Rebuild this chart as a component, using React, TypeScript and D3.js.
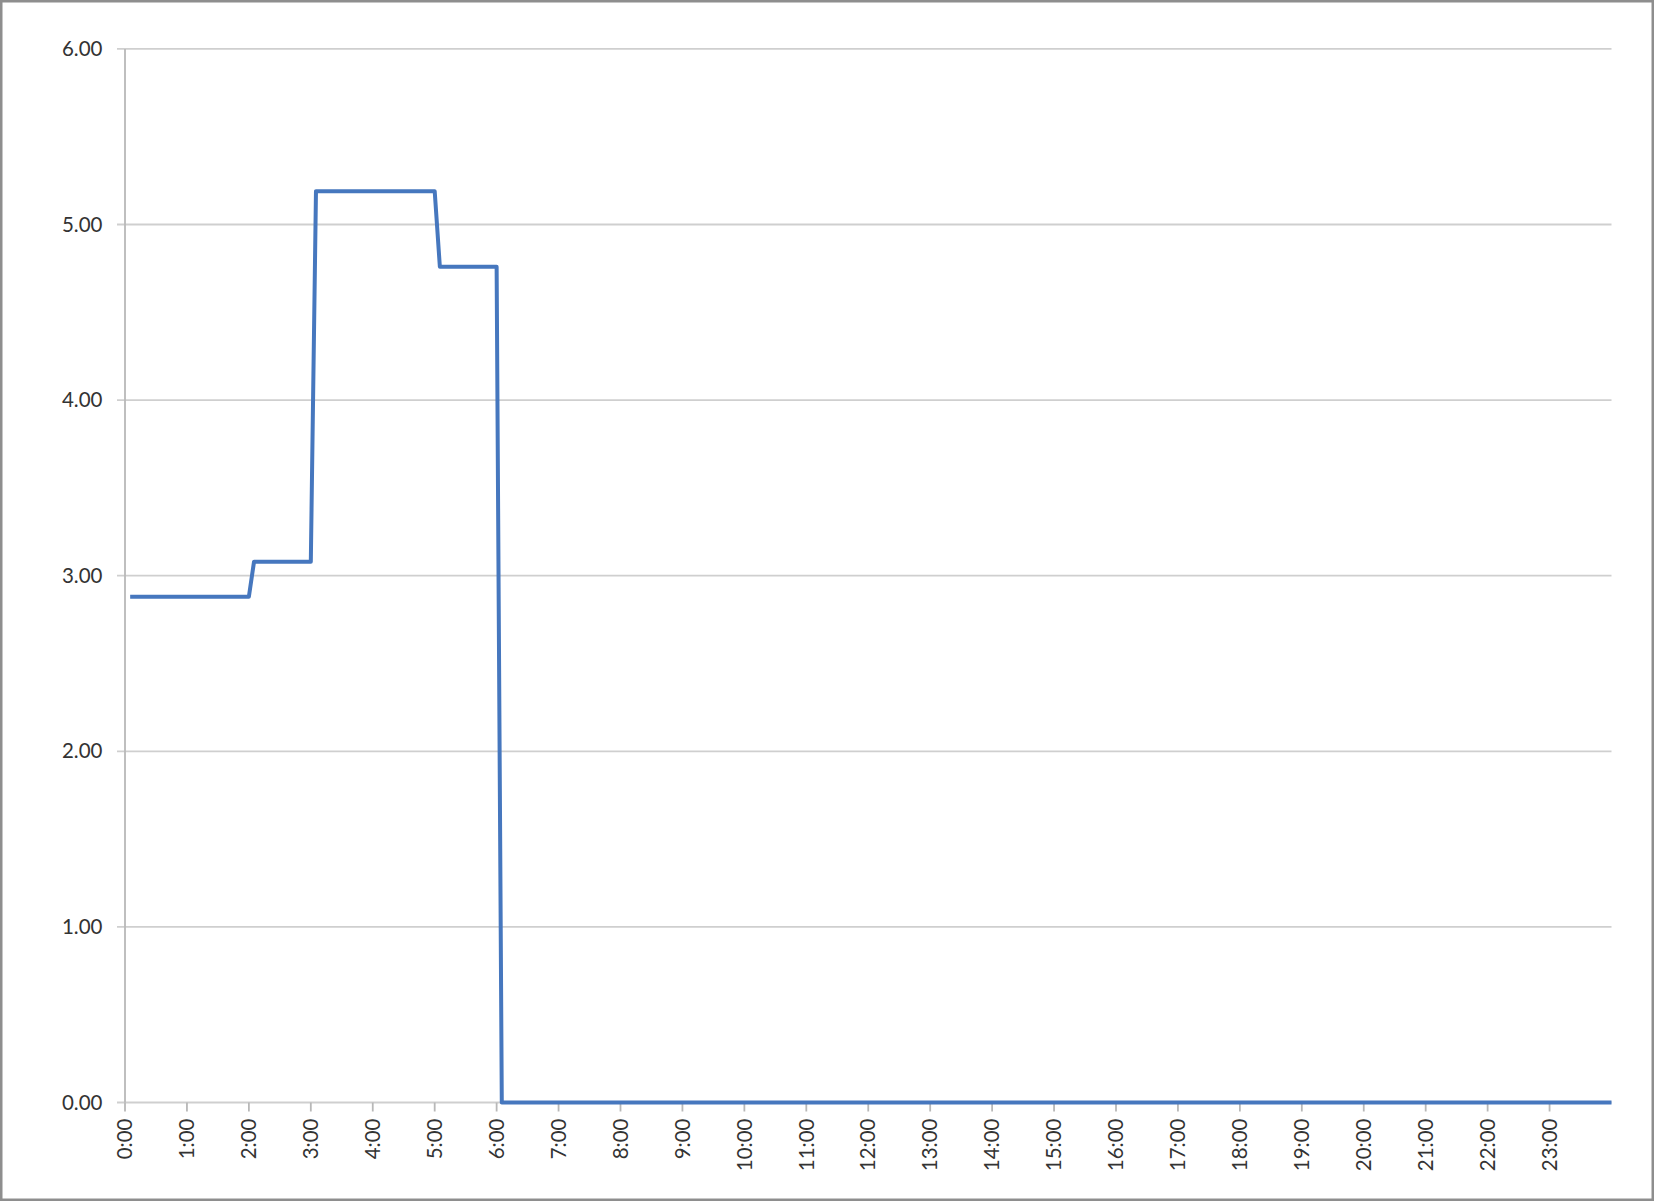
import React from "react";
import * as d3 from "d3";

// Step series: time of day (h:mm) and value at each breakpoint
const pointTimes = ["0:05", "2:00", "2:05", "3:00", "3:05", "5:00", "5:05", "6:00", "6:05", "24:00"];
const pointValues = [2.88, 2.88, 3.08, 3.08, 5.19, 5.19, 4.76, 4.76, 0.0, 0.0];

const hourTicks = [
  "0:00", "1:00", "2:00", "3:00", "4:00", "5:00", "6:00", "7:00", "8:00", "9:00", "10:00", "11:00",
  "12:00", "13:00", "14:00", "15:00", "16:00", "17:00", "18:00", "19:00", "20:00", "21:00", "22:00", "23:00",
];
const valueTicks = [0, 1, 2, 3, 4, 5, 6];

const W = 1654;
const H = 1201;

const toMin = (s: string) => {
  const [h, m] = s.split(":").map(Number);
  return h * 60 + m;
};

export default function App() {
  const left = 125;
  const right = 1611.5;
  const top = 48.9;
  const bottom = 1102.5;

  const x = d3.scaleLinear().domain([0, 1440]).range([left, right]);
  const y = d3.scaleLinear().domain([0, 6]).range([bottom, top]);

  const data = pointTimes.map((t, i) => ({ t: toMin(t), v: pointValues[i] }));
  const line = d3
    .line<{ t: number; v: number }>()
    .x((d) => x(d.t))
    .y((d) => y(d.v));

  const font = "Lato, 'Open Sans', sans-serif";
  const gridColor = "#cfcfcf";
  const axisColor = "#b8b8b8";

  return (
    <svg
      width={W}
      height={H}
      style={{ position: "absolute", left: 0, top: 0, background: "#fff" }}
    >
      <rect x={1.25} y={1.25} width={W - 2.5} height={H - 2.5} fill="#fff" stroke="#8e8e8e" strokeWidth={2.5} />
      {/* horizontal gridlines + y ticks */}
      {valueTicks.map((v) => (
        <g key={v}>
          <line x1={left - 8} x2={right} y1={y(v)} y2={y(v)} stroke={gridColor} strokeWidth={1.8} />
          <text
            x={102.5}
            y={y(v)}
            dy="0.35em"
            textAnchor="end"
            fontFamily={font}
            fontSize={20.5}
            fill="#333"
          >
            {v.toFixed(2)}
          </text>
        </g>
      ))}
      {/* y axis line */}
      <line x1={left} x2={left} y1={top} y2={bottom} stroke={axisColor} strokeWidth={1.8} />
      {/* x axis ticks + labels */}
      {hourTicks.map((lbl) => {
        const xx = x(toMin(lbl));
        return (
          <g key={lbl}>
            <line x1={xx} x2={xx} y1={bottom} y2={bottom + 9} stroke={axisColor} strokeWidth={1.8} />
            <text
              transform={`translate(${xx},${bottom + 16}) rotate(-90)`}
              dy="0.35em"
              textAnchor="end"
              fontFamily={font}
              fontSize={20.5}
              fill="#333"
            >
              {lbl}
            </text>
          </g>
        );
      })}
      <path d={line(data) ?? ""} fill="none" stroke="#4677be" strokeWidth={4} strokeLinejoin="round" />
    </svg>
  );
}
